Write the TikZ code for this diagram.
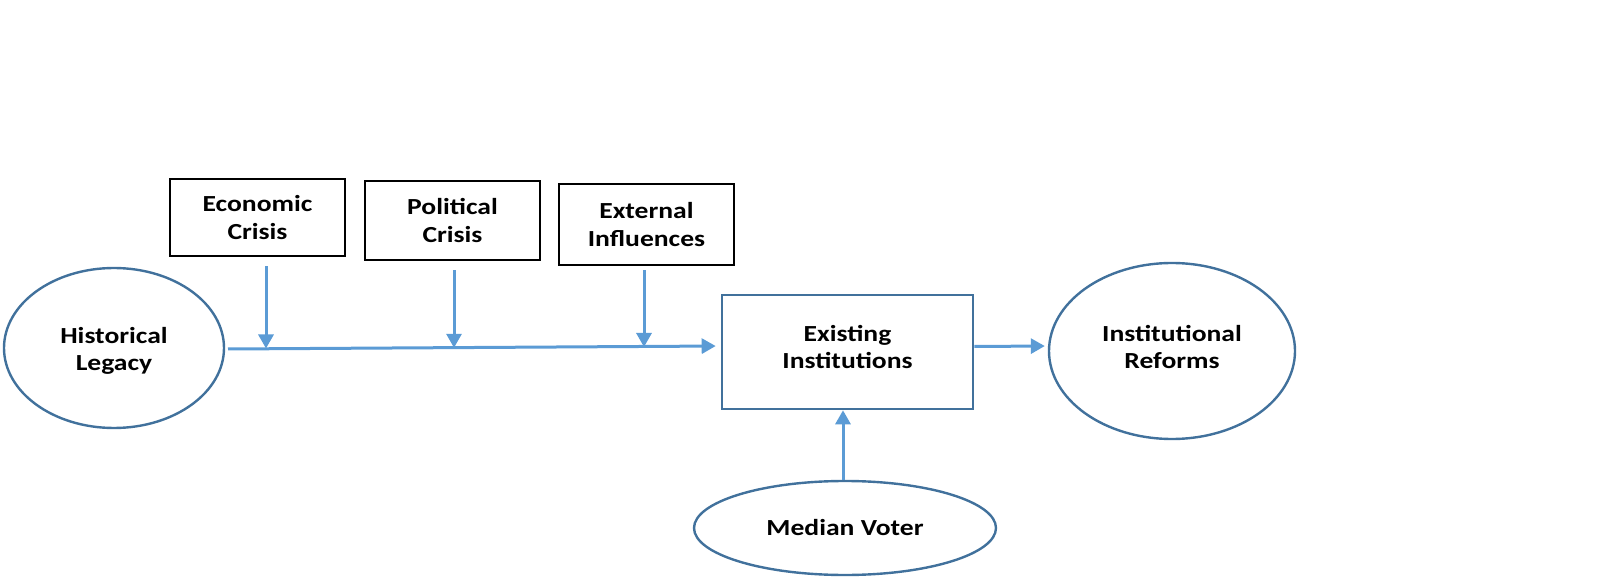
\documentclass[tikz,border=0pt]{standalone}
\usepackage{fontspec}
\setmainfont{Carlito}[FakeStretch=1.2]
\usetikzlibrary{shapes.geometric,arrows.meta}
\definecolor{ellblue}{HTML}{41719C}
\definecolor{arrblue}{HTML}{5B9BD5}
\tikzset{
  txt/.style={font=\bfseries\fontsize{23}{27.5}\selectfont, align=center, text=black},
  oval/.style={txt, draw=ellblue, line width=2.4pt, ellipse, inner sep=0pt},
  blackbox/.style={txt, draw=black, line width=2.4pt, rectangle, inner sep=0pt},
  bluebox/.style={txt, draw=ellblue, line width=2.6pt, rectangle, inner sep=0pt},
  conn/.style={draw=arrblue, line width=3pt},
  arr/.style={conn, -{Triangle[width=15pt,length=14pt]}},
}
\begin{document}
\begin{tikzpicture}[x=1pt,y=-1pt]
\useasboundingbox (0,0) rectangle (1607,577);
% nodes
\node[oval, minimum width=220pt, minimum height=160pt] (hist) at (114,348) {};
\node[txt] at ([yshift=-3pt]hist.center) {Historical\\Legacy};
\node[blackbox, minimum width=175pt, minimum height=77pt] (eco) at (257.5,217.5) {Economic\\Crisis};
\node[blackbox, minimum width=175pt, minimum height=79pt] (pol) at (452.5,220.5) {Political\\Crisis};
\node[blackbox, minimum width=175pt, minimum height=81pt] (ext) at (646.5,224.5) {External\\Influences};
\node[bluebox, minimum width=251pt, minimum height=114pt] (inst) at (847.5,352) {};
\node[txt] at ([yshift=5pt]inst.center) {Existing\\Institutions};
\node[oval, minimum width=246pt, minimum height=176pt] (ref) at (1172,351) {};
\node[txt] at ([yshift=4pt]ref.center) {Institutional\\Reforms};
\node[oval, minimum width=302pt, minimum height=94pt] (med) at (845,528) {Median Voter};
% junction points on main line
\coordinate (j1) at (266,348.5);
\coordinate (j2) at (454,347.8);
\coordinate (j3) at (644,347);
\coordinate (hs) at (228,349);
% connectors
\draw[arr, shorten >=5pt] (hs) -- (inst.west |- 0,346);
\draw[arr, shorten <=9pt] (eco.south -| j1) -- (j1);
\draw[arr, shorten <=9pt] (pol.south -| j2) -- (j2);
\draw[arr, shorten <=4pt] (ext.south -| j3) -- (j3);
\draw[arr, shorten >=3pt] (inst.east |- 0,346.5) -- (ref.west |- 0,346);
\draw[arr] (med.north -| 843,0) -- (inst.south -| 843,0);
\end{tikzpicture}
\end{document}
